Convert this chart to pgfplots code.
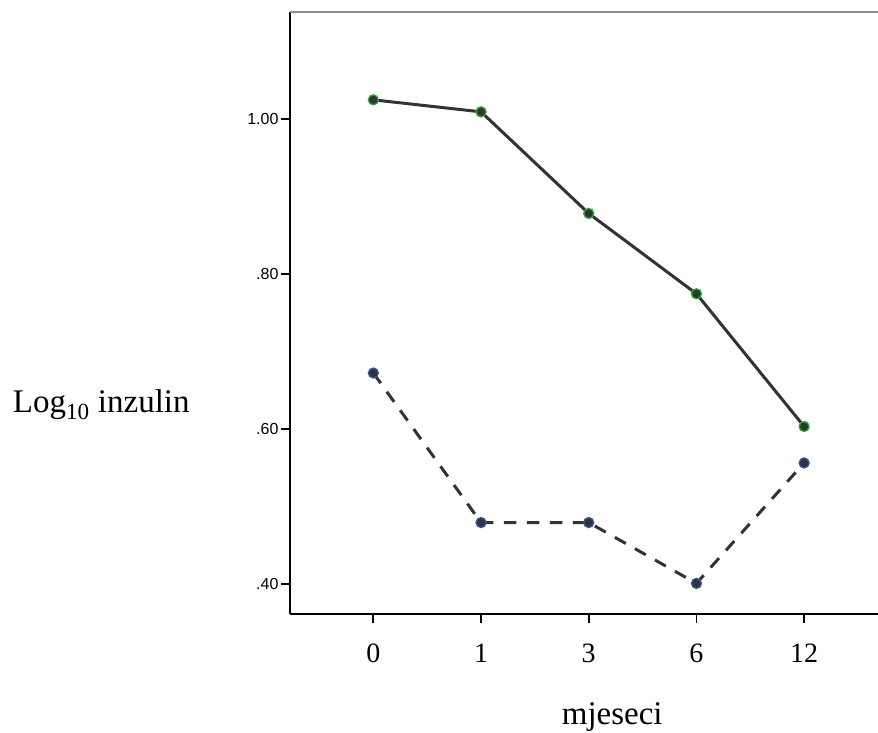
\documentclass[border=0pt]{standalone}
\usepackage{fontspec}
\setmainfont{Liberation Serif}
\newfontfamily\arialf{Liberation Sans}
\usepackage{pgfplots}
\pgfplotsset{compat=1.18}
\definecolor{lineg}{HTML}{333333}
\definecolor{mkgreen}{HTML}{22AA33}
\definecolor{mkblue}{HTML}{3355AA}
\begin{document}
\begin{tikzpicture}[x=1pt,y=1pt]
\useasboundingbox (0,0) rectangle (878,733);
\begin{axis}[
  at={(290pt,119pt)}, anchor=south west,
  scale only axis, width=588pt, height=602pt,
  xmin=-0.774, xmax=4.686,
  ymin=0.361, ymax=1.138,
  axis lines=left,
  axis line style={-, line width=1.8pt, black},
  xtick={0,1,2,3,4},
  xticklabels={0,1,3,6,12},
  ytick={0.4,0.6,0.8,1.0},
  yticklabels={.40,.60,.80,1.00},
  tick style={line width=1.8pt, black},
  major tick length=9pt,
  tick align=outside,
  xticklabel style={font=\fontsize{28}{30}\selectfont, anchor=center, yshift=-30pt},
  yticklabel style={font=\arialf\fontsize{16}{18}\selectfont, xshift=1pt},
  xlabel={mjeseci},
  xlabel style={font=\fontsize{33}{36}\selectfont, at={(axis description cs:0.548,-0.171)}, anchor=center},
  ylabel={Log\textsubscript{10} inzulin},
  ylabel style={font=\fontsize{33}{36}\selectfont, rotate=-90, at={(axis description cs:-0.321,0.347)}, anchor=center},
  clip=false,
]
\draw[line width=2pt, black!45] (rel axis cs:0,1) -- (rel axis cs:1,1);
\addplot[lineg, line width=3pt, mark=*, mark size=5pt,
  mark options={solid, fill=lineg, draw=mkgreen, line width=1.3pt}]
  coordinates {(0,1.0246) (1,1.0091) (2,0.878) (3,0.7743) (4,0.603)};
\addplot[lineg, line width=3pt, dash pattern=on 12.5pt off 10.5pt, mark=*, mark size=5pt,
  mark options={solid, fill=lineg, draw=mkblue, line width=1.3pt}]
  coordinates {(0,0.672) (1,0.479) (2,0.479) (3,0.4005) (4,0.556)};
\end{axis}
\end{tikzpicture}
\end{document}
